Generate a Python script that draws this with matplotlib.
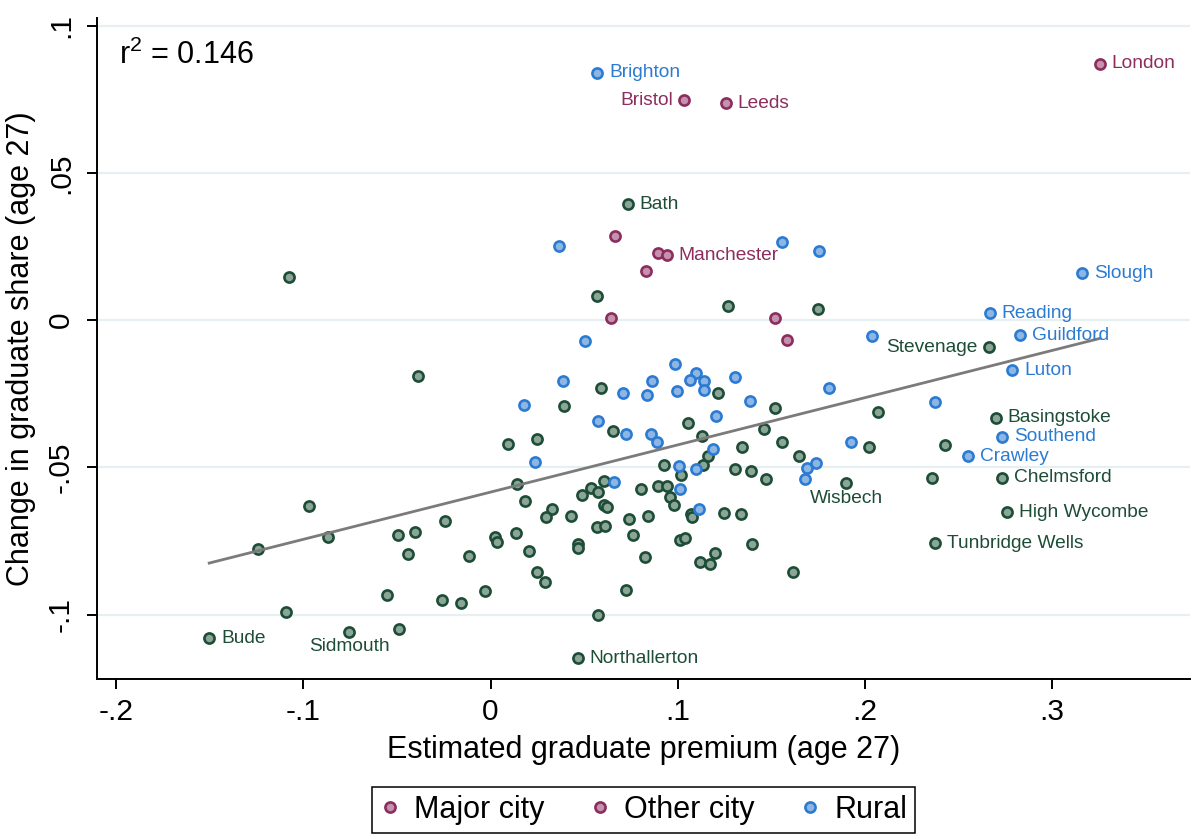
import matplotlib
matplotlib.use("Agg")
import matplotlib.pyplot as plt
from matplotlib.lines import Line2D
import numpy as np

plt.rcParams["font.family"] = ["Liberation Sans", "DejaVu Sans"]
plt.rcParams["mathtext.fontset"] = "custom"
plt.rcParams["mathtext.rm"] = "Liberation Sans"
plt.rcParams["mathtext.it"] = "Liberation Sans:italic"

# unlabelled areas, by group (x = graduate premium, y = change in graduate share)
green_x = [-0.1076, -0.0386, -0.0969, -0.1242, -0.0867, -0.0495, -0.0405, -0.0245, -0.0440,
           -0.0113, -0.0553, -0.0259, -0.0156, -0.1092, -0.0489, 0.0570, 0.1272, 0.1752,
           0.0591, 0.1218, 0.0393, 0.1520, 0.2072, 0.1056, 0.1464, 0.0657, 0.1131, 0.1559,
           0.2022, 0.0092, 0.0250, 0.1347, 0.1165, 0.1650, 0.0926, 0.1138, 0.1017, 0.1307,
           0.1395, 0.1472, 0.0143, 0.0609, 0.0536, 0.0573, 0.0489, 0.0806, 0.0897, 0.0944,
           0.0958, 0.0980, 0.0183, 0.0330, 0.0298, 0.0430, 0.0609, 0.0623, 0.0739, 0.0841,
           0.1071, 0.1078, 0.1247, 0.1338, 0.0024, 0.0033, 0.0136, 0.0204, 0.0466, 0.0466,
           0.0570, 0.0612, 0.0760, 0.1012, 0.1040, 0.1397, 0.0250, 0.0291, -0.0028, 0.0723,
           0.0826, 0.1119, 0.1175, 0.1201, 0.1616, 0.0573, 0.2432, 0.2361]
green_y = [0.0146, -0.0189, -0.0633, -0.0778, -0.0736, -0.0730, -0.0720, -0.0684, -0.0796,
           -0.0801, -0.0934, -0.0950, -0.0961, -0.0993, -0.1049, 0.0082, 0.0048, 0.0036,
           -0.0229, -0.0249, -0.0292, -0.0299, -0.0313, -0.0351, -0.0371, -0.0376, -0.0395, -0.0413,
           -0.0430, -0.0422, -0.0404, -0.0431, -0.0461, -0.0460, -0.0493, -0.0493, -0.0525, -0.0507,
           -0.0514, -0.0540, -0.0556, -0.0546, -0.0571, -0.0583, -0.0595, -0.0572, -0.0564, -0.0562,
           -0.0600, -0.0627, -0.0616, -0.0640, -0.0670, -0.0667, -0.0627, -0.0634, -0.0674, -0.0667,
           -0.0658, -0.0669, -0.0656, -0.0659, -0.0737, -0.0755, -0.0723, -0.0785, -0.0760, -0.0774,
           -0.0703, -0.0701, -0.0729, -0.0747, -0.0739, -0.0760, -0.0855, -0.0889, -0.0919, -0.0917,
           -0.0805, -0.0821, -0.0829, -0.0790, -0.0856, -0.1002, -0.0425, -0.0538]

rural_x = [0.0368, 0.1556, 0.1758, 0.0505, 0.2042, 0.0987, 0.1101, 0.1065, 0.1143, 0.1306,
           0.0386, 0.0865, 0.0707, 0.0835, 0.0996, 0.1140, 0.1810, 0.0179, 0.1389, 0.1207,
           0.0576, 0.0725, 0.0858, 0.0889, 0.1926, 0.1188, 0.0240, 0.1008, 0.1099, 0.1693,
           0.1739, 0.1683, 0.0659, 0.1012, 0.1113, 0.2375]
rural_y = [0.0251, 0.0265, 0.0235, -0.0070, -0.0053, -0.0149, -0.0181, -0.0204, -0.0206, -0.0193,
           -0.0206, -0.0206, -0.0249, -0.0254, -0.0240, -0.0238, -0.0229, -0.0289, -0.0276, -0.0327,
           -0.0342, -0.0387, -0.0388, -0.0414, -0.0414, -0.0437, -0.0483, -0.0497, -0.0506, -0.0502,
           -0.0487, -0.0539, -0.0549, -0.0575, -0.0642, -0.0279]

city_x = [0.0666, 0.0894, 0.0833, 0.0643, 0.1521, 0.1587]
city_y = [0.0286, 0.0227, 0.0166, 0.0006, 0.0006, -0.0066]

# labelled areas
label_names = ["London", "Brighton", "Bristol", "Leeds", "Bath", "Manchester", "Slough",
               "Reading", "Stevenage", "Guildford", "Luton", "Basingstoke", "Southend",
               "Crawley", "Chelmsford", "Wisbech", "High Wycombe", "Tunbridge Wells",
               "Bude", "Sidmouth", "Northallerton"]
label_group = ["city", "rural", "city", "city", "green", "city", "rural",
               "rural", "green", "rural", "rural", "green", "rural",
               "rural", "green", "green", "green", "green",
               "green", "green", "green"]
label_x = [0.3257, 0.0570, 0.1035, 0.1259, 0.0733, 0.0944, 0.3165,
           0.2668, 0.2664, 0.2832, 0.2790, 0.2703, 0.2735,
           0.2552, 0.2734, 0.1903, 0.2760, 0.2377,
           -0.1504, -0.0755, 0.0466]
label_y = [0.0870, 0.0840, 0.0747, 0.0736, 0.0393, 0.0221, 0.0159,
           0.0023, -0.0093, -0.0051, -0.0170, -0.0331, -0.0396,
           -0.0463, -0.0536, -0.0555, -0.0652, -0.0758,
           -0.1081, -0.1060, -0.1149]

x_ticks = [-0.2, -0.1, 0, 0.1, 0.2, 0.3]
x_ticklabels = ["-.2", "-.1", "0", ".1", ".2", ".3"]
y_ticks = [-0.1, -0.05, 0, 0.05, 0.1]
y_ticklabels = ["-.1", "-.05", "0", ".05", ".1"]
r2_text = "r$^{2}$ = 0.146"

styles = {
    "green": dict(edge="#1d4c37", fill="#8ba696"),
    "rural": dict(edge="#2b7bd2", fill="#8db6e5"),
    "city": dict(edge="#8c2d5d", fill="#c592ad"),
}
label_side = {"Bristol": "left", "Stevenage": "left", "Wisbech": "below", "Sidmouth": "below"}

fig = plt.figure(figsize=(11.92, 8.39), dpi=100)
ax = fig.add_axes([97 / 1192, 1 - 679 / 839, (1190 - 97) / 1192, (679 - 18) / 839])

groups = {
    "green": (list(green_x), list(green_y)),
    "rural": (list(rural_x), list(rural_y)),
    "city": (list(city_x), list(city_y)),
}
for name, g, x, y in zip(label_names, label_group, label_x, label_y):
    groups[g][0].append(x)
    groups[g][1].append(y)

MS, MEW = 7.3, 1.9
for g in ["green", "rural", "city"]:
    st = styles[g]
    ax.plot(groups[g][0], groups[g][1], "o", ls="none", ms=MS, mew=MEW,
            mfc=st["fill"], mec=st["edge"], zorder=3)

# linear fit over all areas
all_x = np.array(green_x + rural_x + city_x + label_x)
all_y = np.array(green_y + rural_y + city_y + label_y)
coef = np.polyfit(all_x, all_y, 1)
xs = np.array([all_x.min(), all_x.max()])
ax.plot(xs, np.polyval(coef, xs), color="#7b7b7b", lw=2.0, zorder=4)

for name, g, x, y in zip(label_names, label_group, label_x, label_y):
    side = label_side.get(name, "right")
    col = styles[g]["edge"]
    if side == "right":
        off, ha = (8.5, 0), "left"
    elif side == "left":
        off, ha = (-8, 0), "right"
    else:
        off, ha = (0, -10.5), "center"
    ax.annotate(name, (x, y), xytext=off, textcoords="offset points",
                ha=ha, va="center", color=col, fontsize=13.8, zorder=5)

ax.text(0.020, 0.944, r2_text, transform=ax.transAxes, fontsize=22,
        ha="left", va="center")

ax.set_xlim(-0.2104, 0.374)
ax.set_ylim(-0.1219, 0.1026)
ax.set_xticks(x_ticks)
ax.set_xticklabels(x_ticklabels)
ax.set_yticks(y_ticks)
ax.set_yticklabels(y_ticklabels, rotation=90, va="center")
ax.tick_params(axis="both", length=7, width=1.4, labelsize=21.5, color="black")
ax.tick_params(axis="x", pad=7)
ax.tick_params(axis="y", pad=9)
for s in ["top", "right"]:
    ax.spines[s].set_visible(False)
for s in ["left", "bottom"]:
    ax.spines[s].set_linewidth(1.4)
ax.yaxis.grid(True, color="#e6eff1", lw=1.6)
ax.set_axisbelow(True)

ax.set_xlabel("Estimated graduate premium (age 27)", fontsize=22, labelpad=6)
ax.set_ylabel("Change in graduate share (age 27)", fontsize=22, labelpad=8)

legend_entries = [("Major city", "city"), ("Other city", "city"), ("Rural", "rural")]
handles = [
    Line2D([], [], marker="o", ls="none", ms=MS, mew=MEW, mfc=styles[g]["fill"],
           mec=styles[g]["edge"], label=lab)
    for lab, g in legend_entries
]
leg = fig.legend(handles=handles, loc="center", bbox_to_anchor=(0.5395, 0.0346), ncol=3,
                 fontsize=22, frameon=True, fancybox=False, edgecolor="black",
                 framealpha=1, handlelength=0.7, handletextpad=0.45, columnspacing=1.45,
                 borderpad=0.25, borderaxespad=0)
leg.get_frame().set_linewidth(1.1)

fig.savefig("out.png", dpi=100)
